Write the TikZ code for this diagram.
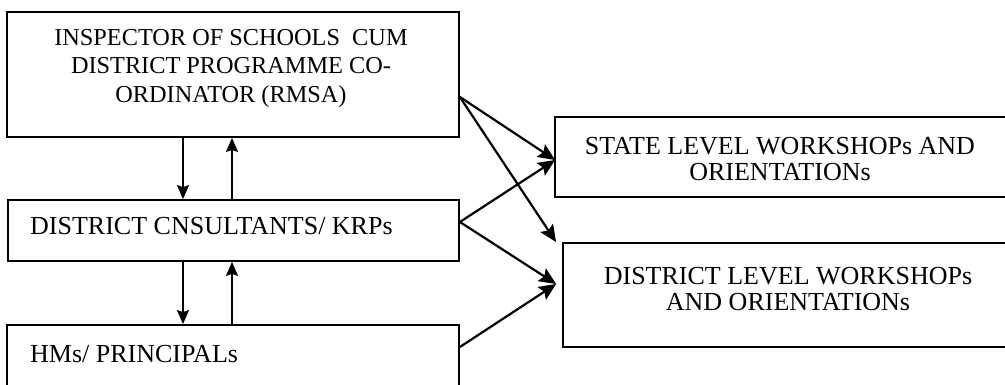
\documentclass[tikz,border=0pt]{standalone}
\usepackage{fontspec}
\setmainfont{Liberation Serif}
\usetikzlibrary{arrows.meta,calc}
\begin{document}
\begin{tikzpicture}[x=1pt,y=-1pt,
  box/.style={draw,line width=1.8pt,rectangle,inner sep=0pt},
  txt/.style={font=\fontsize{26}{26.5}\selectfont,inner sep=0pt,align=center},
  txtsmall/.style={font=\fontsize{24.3}{28.5}\selectfont,inner sep=0pt,align=center},
  conn/.style={line width=2.2pt,-{Stealth[length=17pt,width=15pt,inset=3pt]}},
  vconn/.style={line width=1.8pt,-{Stealth[length=14pt,width=12pt,inset=2pt]}}]
\useasboundingbox (0,0) rectangle (1005,385);
% boxes
\node[box,minimum width=452pt,minimum height=125pt] (b1) at (233,74.5) {};
\node[box,minimum width=451pt,minimum height=61pt] (b2) at (233.5,230.5) {};
\node[box,minimum width=452pt,minimum height=80pt] (b3) at (233,365) {};
\node[box,minimum width=455pt,minimum height=80pt] (s) at (782.5,157) {};
\node[box,minimum width=447pt,minimum height=104pt] (d) at (786.5,295) {};
% texts
\node[txtsmall] (t1) at (231,68.5) {INSPECTOR OF SCHOOLS\ \ CUM\\DISTRICT PROGRAMME CO-\\ORDINATOR (RMSA)};
\node[txt,anchor=base west] (t2) at (30,235) {DISTRICT CNSULTANTS/ KRPs};
\node[txt,anchor=base west] (t3) at (30,362) {HMs/ PRINCIPALs};
\node[txt] (t4) at (780,159) {STATE LEVEL WORKSHOPs AND\\ORIENTATIONs};
\node[txt] (t5) at (788,289) {DISTRICT LEVEL WORKSHOPs\\AND ORIENTATIONs};
% vertical arrows
\coordinate (dx) at (183,0);
\coordinate (ux) at (232,0);
\draw[vconn] (dx |- b1.south) -- (dx |- b2.north);
\draw[vconn] (ux |- b2.north) -- (ux |- b1.south);
\draw[vconn] (dx |- b2.south) -- (dx |- b3.north);
\draw[vconn] (ux |- b3.north) -- (ux |- b2.south);
% diagonal arrows
\coordinate (o1) at ($(b1.east)+(0,22.5)$);
\coordinate (o2) at ($(b2.east)+(0,-8.5)$);
\coordinate (o3) at ($(b3.east)+(0,-18)$);
\coordinate (ps) at ($(s.west)+(1,3)$);
\coordinate (pd1) at ($(d.north west)+(-6,0)$);
\coordinate (pd2) at ($(d.west)+(-6,-11)$);
\draw[conn] (o1) -- (ps);
\draw[conn] (o1) -- (pd1);
\draw[conn] (o2) -- (ps);
\draw[conn] (o2) -- (pd2);
\draw[conn] (o3) -- (pd2);
\end{tikzpicture}
\end{document}
